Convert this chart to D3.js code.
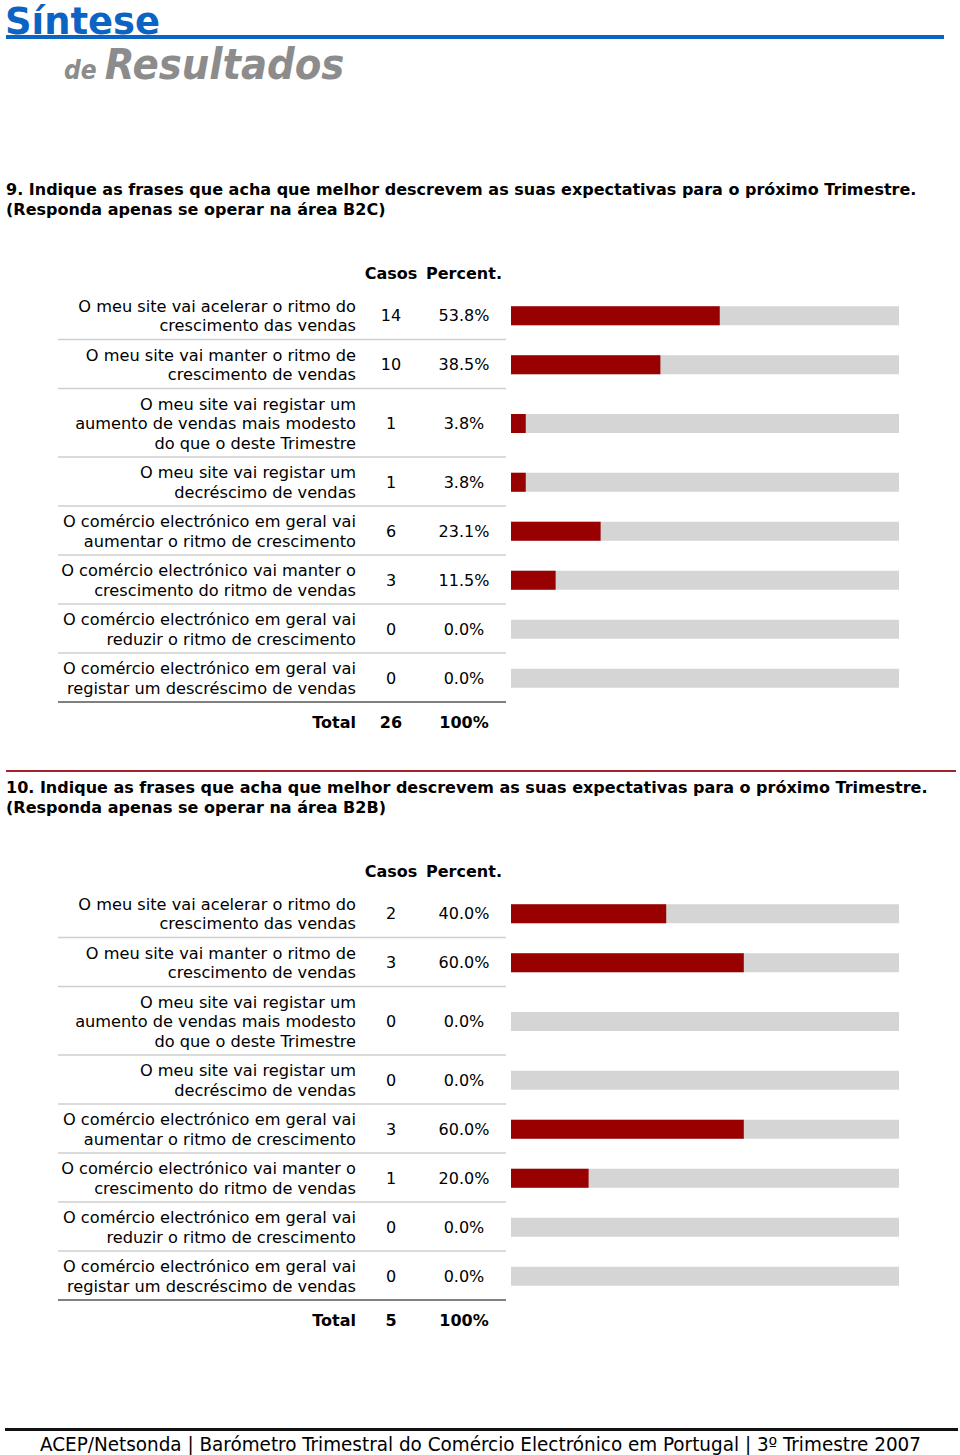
<!DOCTYPE html>
<html>
<head>
<meta charset="utf-8">
<script src="https://cdn.jsdelivr.net/npm/d3@7"></script>
<style>
  body { margin: 0; background: #fff; }
  svg { display: block; }
  text { font-family: "DejaVu Sans", Verdana, sans-serif; fill: #000; }
</style>
</head>
<body>
<svg id="chart"></svg>
<script>
const width = 960
const height = 1455

// statements (line breaks as in the original table)
const statements = [
  ['O meu site vai acelerar o ritmo do', 'crescimento das vendas'],
  ['O meu site vai manter o ritmo de', 'crescimento de vendas'],
  ['O meu site vai registar um', 'aumento de vendas mais modesto', 'do que o deste Trimestre'],
  ['O meu site vai registar um', 'decréscimo de vendas'],
  ['O comércio electrónico em geral vai', 'aumentar o ritmo de crescimento'],
  ['O comércio electrónico vai manter o', 'crescimento do ritmo de vendas'],
  ['O comércio electrónico em geral vai', 'reduzir o ritmo de crescimento'],
  ['O comércio electrónico em geral vai', 'registar um descréscimo de vendas']
]

const questions = [
  ['9. Indique as frases que acha que melhor descrevem as suas expectativas para o próximo Trimestre.', '(Responda apenas se operar na área B2C)'],
  ['10. Indique as frases que acha que melhor descrevem as suas expectativas para o próximo Trimestre.', '(Responda apenas se operar na área B2B)']
]

const casosB2C = [14, 10, 1, 1, 6, 3, 0, 0]
const percentB2C = [53.8, 38.5, 3.8, 3.8, 23.1, 11.5, 0.0, 0.0]
const totalB2C = 26

const casosB2B = [2, 3, 0, 0, 3, 1, 0, 0]
const percentB2B = [40.0, 60.0, 0.0, 0.0, 60.0, 20.0, 0.0, 0.0]
const totalB2B = 5

const footerText = 'ACEP/Netsonda | Barómetro Trimestral do Comércio Electrónico em Portugal | 3º Trimestre 2007'

const svg = d3.select('#chart').attr('width', width).attr('height', height)

// header
svg.append('text')
  .attr('x', 5).attr('y', 34)
  .attr('textLength', 155).attr('lengthAdjust', 'spacingAndGlyphs')
  .style('font-family', '"Liberation Sans Narrow", "DejaVu Sans Condensed", sans-serif')
  .style('font-weight', 'bold')
  .style('font-size', '38px')
  .style('fill', '#0b63c4')
  .text('Síntese')
svg.append('rect').attr('x', 6).attr('y', 35).attr('width', 938).attr('height', 4).attr('fill', '#0b63c4')
const sub = svg.append('text')
  .attr('x', 64).attr('y', 79)
  .style('font-family', '"Liberation Sans Narrow", "DejaVu Sans Condensed", sans-serif')
  .style('font-weight', 'bold').style('font-style', 'italic')
  .style('fill', '#8c8c8c')
sub.append('tspan').style('font-size', '26px').text('de ')
sub.append('tspan').style('font-size', '43px').text('Resultados')

const x = d3.scaleLinear().domain([0, 100]).range([511, 899])
const lineH = 19.5

function drawSection(offset, question, casos, percent, total) {
  const g = svg.append('g').attr('transform', `translate(0,${offset})`)

  g.selectAll('text.q')
    .data(question)
    .join('text')
    .attr('class', 'q')
    .attr('x', 6)
    .attr('y', (d, i) => 195 + i * 20)
    .style('font-weight', 'bold')
    .style('font-size', '16px')
    .text(d => d)

  g.append('text').attr('x', 391).attr('y', 279).attr('text-anchor', 'middle')
    .style('font-weight', 'bold').style('font-size', '16px').text('Casos')
  g.append('text').attr('x', 464).attr('y', 279).attr('text-anchor', 'middle')
    .style('font-weight', 'bold').style('font-size', '16px').text('Percent.')

  // row layout from the number of label lines
  let top = 290.5
  const rows = statements.map((lines, i) => {
    const h = 10 + lines.length * lineH
    const r = { lines, top, h, casos: casos[i], pct: percent[i], mid: top + 15.5 + (lines.length - 1) * lineH / 2 }
    top += h
    return r
  })

  const row = g.selectAll('g.row').data(rows).join('g').attr('class', 'row')

  row.each(function (d) {
    d3.select(this).selectAll('text.lab')
      .data(d.lines)
      .join('text')
      .attr('class', 'lab')
      .attr('x', 356)
      .attr('y', (l, i) => d.top + 15.5 + i * lineH)
      .attr('dy', '0.35em')
      .attr('text-anchor', 'end')
      .style('font-size', '16.2px')
      .text(l => l)
  })

  row.append('line')
    .attr('x1', 58).attr('x2', 506)
    .attr('y1', d => d.top + d.h).attr('y2', d => d.top + d.h)
    .attr('stroke', (d, i) => i === rows.length - 1 ? '#808080' : '#cfcfcf')
    .attr('stroke-width', (d, i) => i === rows.length - 1 ? 2 : 1.3)

  row.append('text')
    .attr('x', 391).attr('y', d => d.mid).attr('dy', '0.35em')
    .attr('text-anchor', 'middle').style('font-size', '16px')
    .text(d => d.casos)
  row.append('text')
    .attr('x', 464).attr('y', d => d.mid).attr('dy', '0.35em')
    .attr('text-anchor', 'middle').style('font-size', '16px')
    .text(d => d.pct.toFixed(1) + '%')

  row.append('rect')
    .attr('x', x(0)).attr('y', d => d.mid - 9.5)
    .attr('width', x(100) - x(0)).attr('height', 19)
    .attr('fill', '#d5d5d5')
  row.append('rect')
    .attr('x', x(0)).attr('y', d => d.mid - 9.5)
    .attr('width', d => x(d.pct) - x(0)).attr('height', 19)
    .attr('fill', '#990000')

  const ty = top + 20
  g.append('text').attr('x', 356).attr('y', ty).attr('dy', '0.35em').attr('text-anchor', 'end')
    .style('font-weight', 'bold').style('font-size', '16px').text('Total')
  g.append('text').attr('x', 391).attr('y', ty).attr('dy', '0.35em').attr('text-anchor', 'middle')
    .style('font-weight', 'bold').style('font-size', '16px').text(total)
  g.append('text').attr('x', 464).attr('y', ty).attr('dy', '0.35em').attr('text-anchor', 'middle')
    .style('font-weight', 'bold').style('font-size', '16px').text('100%')
}

drawSection(0, questions[0], casosB2C, percentB2C, totalB2C)
svg.append('line').attr('x1', 6).attr('x2', 956).attr('y1', 771).attr('y2', 771)
  .attr('stroke', '#a3232d').attr('stroke-width', 2)
drawSection(598, questions[1], casosB2B, percentB2B, totalB2B)

// footer
svg.append('rect').attr('x', 5).attr('y', 1428).attr('width', 953).attr('height', 3).attr('fill', '#111')
svg.append('text')
  .attr('x', 40).attr('y', 1451)
  .attr('textLength', 881).attr('lengthAdjust', 'spacingAndGlyphs')
  .style('font-family', '"DejaVu Sans Condensed", "DejaVu Sans", sans-serif')
  .style('font-stretch', 'condensed')
  .style('font-size', '19px')
  .text(footerText)
</script>
</body>
</html>
